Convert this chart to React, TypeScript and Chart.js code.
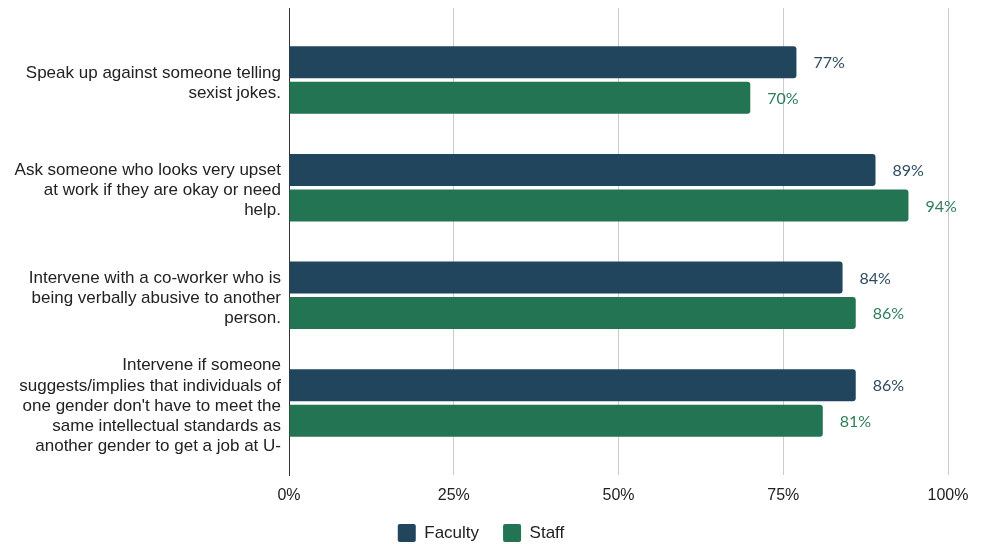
import React, { useEffect, useRef } from "react";
import { Chart, registerables } from "chart.js";

Chart.register(...registerables);

const categories: string[][] = [
  ["Speak up against someone telling", "sexist jokes."],
  ["Ask someone who looks very upset", "at work if they are okay or need", "help."],
  ["Intervene with a co-worker who is", "being verbally abusive to another", "person."],
  [
    "Intervene if someone",
    "suggests/implies that individuals of",
    "one gender don't have to meet the",
    "same intellectual standards as",
    "another gender to get a job at U-",
  ],
];
const seriesNames = ["Faculty", "Staff"];
const facultyValues = [77, 89, 84, 86];
const staffValues = [70, 94, 86, 81];
const xTicks = [0, 25, 50, 75, 100];

const BAR_COLORS = ["#22455e", "#237452"];
const LABEL_COLORS = ["#2e4b63", "#2f7d59"];
const AXIS_FONT = "'Liberation Sans', Arial, sans-serif";

const dataLabelPlugin = {
  id: "dataLabels",
  afterDatasetsDraw(chart: any) {
    const ctx = chart.ctx;
    ctx.save();
    ctx.font = "16px Lato, 'Open Sans', sans-serif";
    ctx.textAlign = "left";
    ctx.textBaseline = "middle";
    chart.data.datasets.forEach((ds: any, di: number) => {
      const meta = chart.getDatasetMeta(di);
      meta.data.forEach((bar: any, i: number) => {
        ctx.fillStyle = LABEL_COLORS[di];
        ctx.fillText(ds.data[i] + "%", bar.x + 17, bar.y + 1);
      });
    });
    ctx.restore();
  },
};

export default function App() {
  const ref = useRef<HTMLCanvasElement>(null);
  useEffect(() => {
    if (!ref.current) return;
    const chart = new Chart(ref.current, {
      type: "bar",
      data: {
        labels: categories as any,
        datasets: [
          {
            label: seriesNames[0],
            data: facultyValues,
            backgroundColor: BAR_COLORS[0],
            borderRadius: 3,
            categoryPercentage: 0.66,
            barPercentage: 0.9,
          },
          {
            label: seriesNames[1],
            data: staffValues,
            backgroundColor: BAR_COLORS[1],
            borderRadius: 3,
            categoryPercentage: 0.66,
            barPercentage: 0.9,
          },
        ],
      },
      options: {
        indexAxis: "y",
        animation: false,
        responsive: false,
        layout: { padding: { left: 14, right: 34, top: 8, bottom: -8 } },
        scales: {
          x: {
            min: 0,
            max: 100,
            afterBuildTicks: (scale: any) => {
              scale.ticks = xTicks.map((v) => ({ value: v }));
            },
            afterFit: (scale: any) => {
              scale.height = 25;
              scale.paddingLeft = 0;
              scale.paddingRight = 0;
              scale._computeLabelArea = () => undefined;
            },
            ticks: {
              callback: (v: any) => v + "%",
              font: { family: AXIS_FONT, size: 16 },
              color: "#222222",
              padding: 11,
            },
            grid: {
              color: (c: any) => (c.tick && c.tick.value === 0 ? "#333333" : "#cccccc"),
              drawTicks: false,
            },
            border: { display: false },
          },
          y: {
            afterBuildTicks: (scale: any) => {
              scale._valueRange += 0.34;
              scale._startValue -= 0.17;
            },
            afterFit: (scale: any) => {
              scale.width = 275;
              scale.paddingTop = 0;
              scale.paddingBottom = 0;
            },
            ticks: {
              font: { family: AXIS_FONT, size: 17, lineHeight: 1.18 },
              color: "#222222",
              padding: 0,
              labelOffset: 3,
            },
            grid: { display: false },
            border: { display: true, color: "#333333", width: 1 },
          },
        },
        plugins: {
          legend: {
            position: "bottom",
            labels: {
              boxWidth: 18,
              boxHeight: 18,
              useBorderRadius: true,
              borderRadius: 2,
              padding: 24,
              color: "#222222",
              font: { family: AXIS_FONT, size: 17 },
            },
          },
          tooltip: { enabled: false },
        },
      },
      plugins: [dataLabelPlugin],
    } as any);
    return () => chart.destroy();
  }, []);
  return (
    <div style={{ position: "fixed", left: 0, top: 0, width: 982, height: 544, overflow: "hidden", background: "#fff" }}>
      <canvas ref={ref} width={982} height={544} />
    </div>
  );
}
